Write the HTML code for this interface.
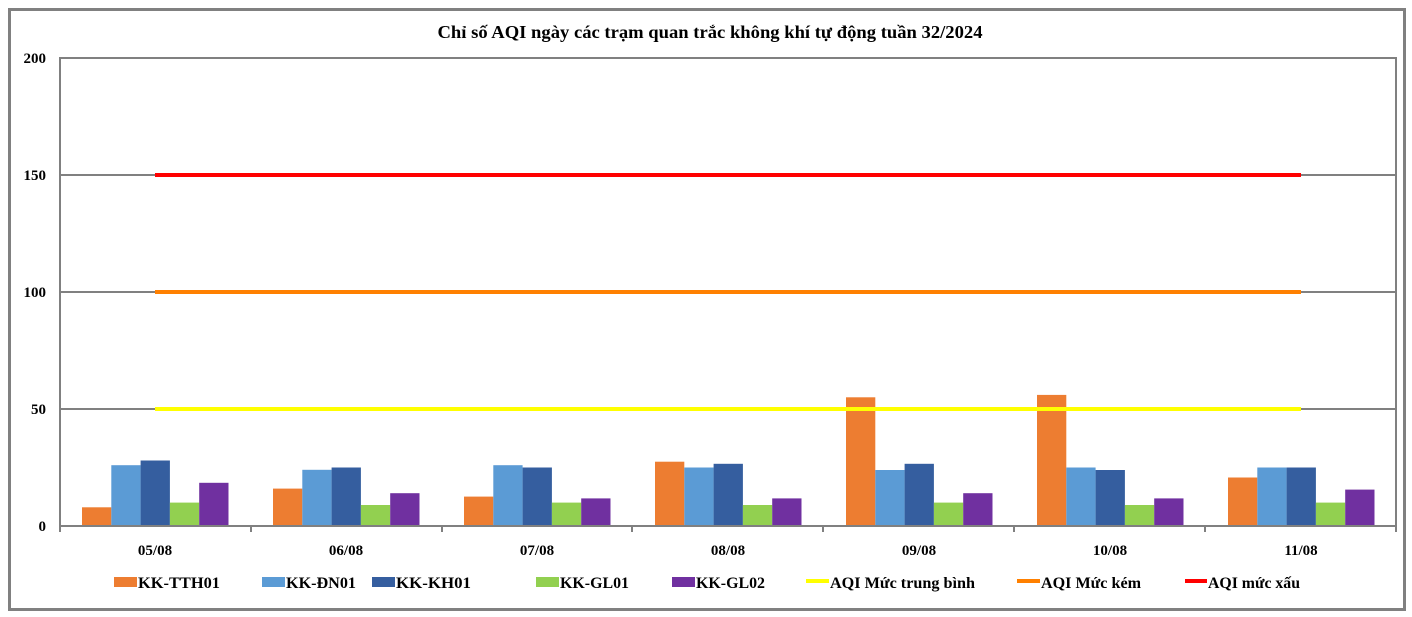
<!DOCTYPE html>
<html><head><meta charset="utf-8"><style>
html,body{margin:0;padding:0;background:#fff;}
svg{display:block;}
text{font-family:"Liberation Serif",serif;font-weight:bold;fill:#000;}
</style></head><body>
<svg width="1412" height="617" xmlns="http://www.w3.org/2000/svg">
<rect x="0" y="0" width="1412" height="617" fill="#fff"/>
<rect x="9.5" y="9.5" width="1395" height="600" fill="none" stroke="#808080" stroke-width="3"/>
<text x="710" y="38" font-size="18" text-anchor="middle" textLength="545" lengthAdjust="spacingAndGlyphs">Chỉ số AQI ngày các trạm quan trắc không khí tự động tuần 32/2024</text>
<g stroke="#808080" stroke-width="2" fill="none">
<rect x="60" y="58" width="1336" height="468"/>
<line x1="60" y1="175" x2="1396" y2="175"/>
<line x1="60" y1="292" x2="1396" y2="292"/>
<line x1="60" y1="409" x2="1396" y2="409"/>
<line x1="60" y1="526" x2="60" y2="532"/>
<line x1="251" y1="526" x2="251" y2="532"/>
<line x1="442" y1="526" x2="442" y2="532"/>
<line x1="632" y1="526" x2="632" y2="532"/>
<line x1="823" y1="526" x2="823" y2="532"/>
<line x1="1014" y1="526" x2="1014" y2="532"/>
<line x1="1205" y1="526" x2="1205" y2="532"/>
<line x1="1396" y1="526" x2="1396" y2="532"/>
</g>
<g font-size="15" text-anchor="end">
<text x="46" y="63">200</text>
<text x="46" y="180">150</text>
<text x="46" y="297">100</text>
<text x="46" y="414">50</text>
<text x="46" y="531">0</text>
</g>
<g stroke-width="4">
<line x1="155" y1="292" x2="1301" y2="292" stroke="#ff8000"/>
<line x1="155" y1="175" x2="1301" y2="175" stroke="#ff0000"/>
</g>
<g font-size="15" text-anchor="middle">
<text x="155" y="555">05/08</text>
<text x="346" y="555">06/08</text>
<text x="537" y="555">07/08</text>
<text x="728" y="555">08/08</text>
<text x="919" y="555">09/08</text>
<text x="1110" y="555">10/08</text>
<text x="1301" y="555">11/08</text>
</g>
<g font-size="16">
<rect x="114" y="577" width="23" height="10" fill="#ed7d31"/><text x="138" y="588" textLength="82" lengthAdjust="spacingAndGlyphs">KK-TTH01</text>
<rect x="262" y="577" width="23" height="10" fill="#5b9bd5"/><text x="286" y="588" textLength="70" lengthAdjust="spacingAndGlyphs">KK-ĐN01</text>
<rect x="372" y="577" width="23" height="10" fill="#355e9f"/><text x="396" y="588" textLength="75" lengthAdjust="spacingAndGlyphs">KK-KH01</text>
<rect x="536" y="577" width="23" height="10" fill="#92d050"/><text x="560" y="588" textLength="69" lengthAdjust="spacingAndGlyphs">KK-GL01</text>
<rect x="672" y="577" width="23" height="10" fill="#7030a0"/><text x="696" y="588" textLength="69" lengthAdjust="spacingAndGlyphs">KK-GL02</text>
<line x1="806" y1="581" x2="829" y2="581" stroke="#ffff00" stroke-width="4"/><text x="830" y="588" textLength="145" lengthAdjust="spacingAndGlyphs">AQI Mức trung bình</text>
<line x1="1017" y1="581" x2="1040" y2="581" stroke="#ff8000" stroke-width="4"/><text x="1041" y="588" textLength="100" lengthAdjust="spacingAndGlyphs">AQI Mức kém</text>
<line x1="1185" y1="581" x2="1207" y2="581" stroke="#ff0000" stroke-width="4"/><text x="1208" y="588" textLength="92" lengthAdjust="spacingAndGlyphs">AQI mức xấu</text>
</g>
<g>
<rect x="82" y="507.3" width="29.3" height="18.7" fill="#ed7d31"/>
<rect x="111.3" y="465.2" width="29.3" height="60.8" fill="#5b9bd5"/>
<rect x="140.6" y="460.5" width="29.3" height="65.5" fill="#355e9f"/>
<rect x="169.9" y="502.6" width="29.3" height="23.4" fill="#92d050"/>
<rect x="199.2" y="482.8" width="29.3" height="43.2" fill="#7030a0"/>
<rect x="273" y="488.6" width="29.3" height="37.4" fill="#ed7d31"/>
<rect x="302.3" y="469.8" width="29.3" height="56.2" fill="#5b9bd5"/>
<rect x="331.6" y="467.5" width="29.3" height="58.5" fill="#355e9f"/>
<rect x="360.9" y="505" width="29.3" height="21" fill="#92d050"/>
<rect x="390.2" y="493.2" width="29.3" height="32.8" fill="#7030a0"/>
<rect x="464" y="496.6" width="29.3" height="29.4" fill="#ed7d31"/>
<rect x="493.3" y="465.2" width="29.3" height="60.8" fill="#5b9bd5"/>
<rect x="522.6" y="467.5" width="29.3" height="58.5" fill="#355e9f"/>
<rect x="551.9" y="502.6" width="29.3" height="23.4" fill="#92d050"/>
<rect x="581.2" y="498.4" width="29.3" height="27.6" fill="#7030a0"/>
<rect x="655" y="461.7" width="29.3" height="64.3" fill="#ed7d31"/>
<rect x="684.3" y="467.5" width="29.3" height="58.5" fill="#5b9bd5"/>
<rect x="713.6" y="463.8" width="29.3" height="62.2" fill="#355e9f"/>
<rect x="742.9" y="505" width="29.3" height="21" fill="#92d050"/>
<rect x="772.2" y="498.4" width="29.3" height="27.6" fill="#7030a0"/>
<rect x="846" y="397.3" width="29.3" height="128.7" fill="#ed7d31"/>
<rect x="875.3" y="470" width="29.3" height="56" fill="#5b9bd5"/>
<rect x="904.6" y="463.8" width="29.3" height="62.2" fill="#355e9f"/>
<rect x="933.9" y="502.6" width="29.3" height="23.4" fill="#92d050"/>
<rect x="963.2" y="493.2" width="29.3" height="32.8" fill="#7030a0"/>
<rect x="1037" y="394.9" width="29.3" height="131.1" fill="#ed7d31"/>
<rect x="1066.3" y="467.5" width="29.3" height="58.5" fill="#5b9bd5"/>
<rect x="1095.6" y="470" width="29.3" height="56" fill="#355e9f"/>
<rect x="1124.9" y="505" width="29.3" height="21" fill="#92d050"/>
<rect x="1154.2" y="498.4" width="29.3" height="27.6" fill="#7030a0"/>
<rect x="1228" y="477.5" width="29.3" height="48.5" fill="#ed7d31"/>
<rect x="1257.3" y="467.5" width="29.3" height="58.5" fill="#5b9bd5"/>
<rect x="1286.6" y="467.5" width="29.3" height="58.5" fill="#355e9f"/>
<rect x="1315.9" y="502.6" width="29.3" height="23.4" fill="#92d050"/>
<rect x="1345.2" y="489.6" width="29.3" height="36.4" fill="#7030a0"/>
</g>
<line x1="155" y1="409" x2="1301" y2="409" stroke="#ffff00" stroke-width="4"/>
<line x1="60" y1="526" x2="1396" y2="526" stroke="#808080" stroke-width="2"/>
</svg>
</body></html>
